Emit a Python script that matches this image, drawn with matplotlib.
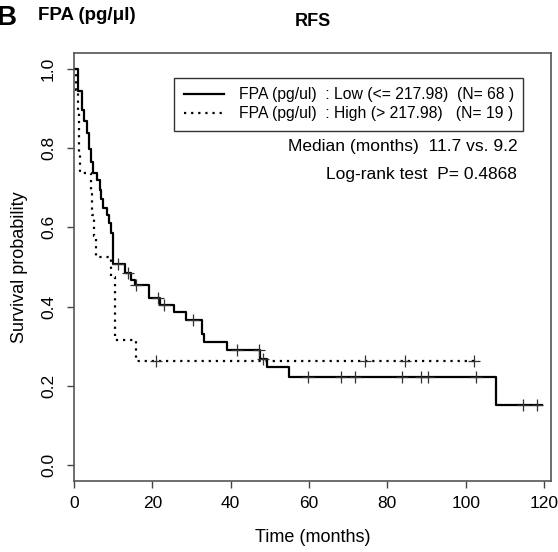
import numpy as np
import matplotlib
import matplotlib.pyplot as plt
matplotlib.use('Agg')

plt.rcParams['font.family'] = ['Liberation Sans', 'DejaVu Sans']

# Low group (solid) step curve
low_t = [0, 1.1, 2.0, 2.6, 3.2, 3.9, 4.4, 4.9, 5.8, 6.6, 7.0, 7.5, 8.3, 9.0, 9.4, 10.0,
         13.1, 14.5, 15.5, 19.2, 22.0, 25.6, 28.5, 32.6, 33.2, 39.0, 47.6, 49.3, 54.9, 107.8]
low_s = [1.0, 0.943, 0.896, 0.868, 0.838, 0.797, 0.765, 0.737, 0.72, 0.694, 0.672, 0.649,
         0.631, 0.610, 0.586, 0.508, 0.484, 0.467, 0.455, 0.421, 0.404, 0.387, 0.366, 0.33,
         0.31, 0.29, 0.269, 0.248, 0.223, 0.152]
low_end = 119.4
low_cens = [11.3, 13.9, 15.8, 21.5, 23.0, 30.5, 41.7, 47.2, 48.3, 59.7, 68.3, 71.7, 83.7,
            88.6, 90.3, 102.7, 114.7, 118.3]

# High group (dotted)
high_t = [0, 0.5, 0.9, 1.2, 1.4, 1.6, 4.3, 4.7, 5.1, 5.6, 9.4, 10.4, 15.8]
high_s = [1.0, 0.947, 0.895, 0.842, 0.789, 0.737, 0.684, 0.632, 0.579, 0.526, 0.474, 0.316, 0.263]
high_end = 103.5
high_cens = [20.9, 74.4, 84.4, 102.2]

x_ticks = [0, 20, 40, 60, 80, 100, 120]
y_ticks = [0.0, 0.2, 0.4, 0.6, 0.8, 1.0]


def surv_at(t, s, x):
    # value of the step function at time x
    idx = np.searchsorted(t, x, side='right') - 1
    return np.array(s)[idx]


fig = plt.figure(figsize=(5.58, 5.52), dpi=100)
ax = fig.add_axes([74 / 558, 71 / 552, 477 / 558, 428 / 552])

for t, s, end, cens, ls, lab in [
        (low_t, low_s, low_end, low_cens, '-', 'FPA (pg/ul)  : Low (<= 217.98)  (N= 68 )'),
        (high_t, high_s, high_end, high_cens, (0, (1, 2.2)), 'FPA (pg/ul)  : High (> 217.98)   (N= 19 )')]:
    tt = list(t) + [end]
    ss = list(s) + [s[-1]]
    ax.step(tt, ss, where='post', color='black', linestyle=ls, linewidth=1.6, label=lab)
    cy = surv_at(np.array(t), s, np.array(cens))
    ax.plot(cens, cy, linestyle='none', marker='+', markersize=8, markeredgewidth=0.9,
            color='#333333')

ax.set_xlim(0, 121.8)
ax.set_ylim(-0.04, 1.04)
ax.set_xticks(x_ticks)
ax.set_xticklabels([str(v) for v in x_ticks])
ax.set_yticks(y_ticks)
ax.set_yticklabels(['%.1f' % v for v in y_ticks], rotation=90, va='center')
ax.tick_params(axis='both', direction='out', length=5, width=1.0, color='#444444',
               labelsize=12.5)
ax.tick_params(axis='y', pad=8)
ax.tick_params(axis='x', pad=6)
for sp in ax.spines.values():
    sp.set_color('#555555')
    sp.set_linewidth(1.2)

ax.set_xlabel('Time (months)', fontsize=13, labelpad=13)
ax.set_ylabel('Survival probability', fontsize=13, labelpad=9)

leg = ax.legend(loc='upper right', bbox_to_anchor=(0.958, 0.960), fontsize=11.3,
                fancybox=False, edgecolor='#333333', handlelength=2.6, handletextpad=0.9,
                borderpad=0.6, labelspacing=0.25, framealpha=1)
leg.get_frame().set_linewidth(1.0)

ax.text(0.929, 0.781, 'Median (months)  11.7 vs. 9.2', transform=ax.transAxes,
        ha='right', va='center', fontsize=12.5)
ax.text(0.929, 0.715, 'Log-rank test  P= 0.4868', transform=ax.transAxes,
        ha='right', va='center', fontsize=12.5)

fig.text(313 / 558, 1 - 22 / 552, 'RFS', ha='center', va='center', fontsize=13,
         fontweight='bold')
fig.text(38 / 558, 1 - 16 / 552, 'FPA (pg/\u03bcl)', ha='left', va='center', fontsize=13.5,
         fontweight='bold')
fig.text(-4 / 558, 1 - 18 / 552, 'B', ha='left', va='center', fontsize=20,
         fontweight='bold')

fig.savefig('out.png', dpi=100)
plt.close()
